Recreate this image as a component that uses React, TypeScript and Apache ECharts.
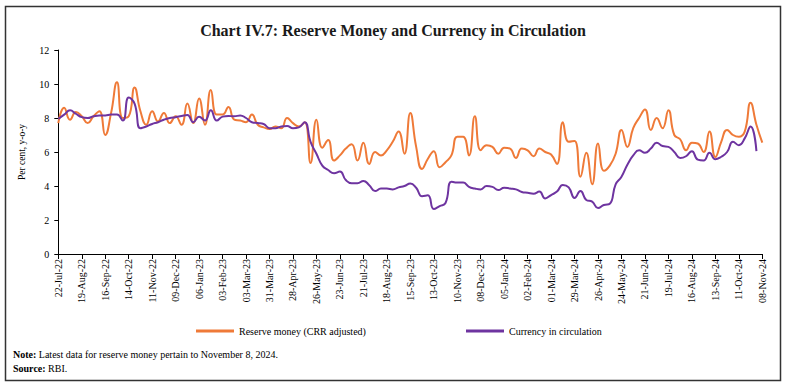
import React, { useEffect, useRef } from "react";
import * as echarts from "echarts";

const TITLE = "Chart IV.7: Reserve Money and Currency in Circulation";
const Y_AXIS_NAME = "Per cent, y-o-y";
const SERIES_NAMES = ["Reserve money (CRR adjusted)", "Currency in circulation"];
const NOTE = "Latest data for reserve money pertain to November 8, 2024.";
const SOURCE = "RBI.";

// Weekly observations, first week ending 22-Jul-2022, last 08-Nov-2024
const START_DATE = [2022, 6, 22];
const WEEK_COUNT = 121;
const Y_TICKS = [0, 2, 4, 6, 8, 10, 12];

const RESERVE_MONEY = [
  7.7, 8.6, 7.9, 8.35, 8.1, 7.7, 8.1, 8.4, 7.0, 8.3,
  10.1, 8.0, 8.1, 9.8, 8.4, 7.6, 8.4, 7.8, 8.3, 7.7,
  8.1, 7.6, 8.85, 7.7, 9.15, 7.6, 9.65, 8.2, 8.2, 8.65,
  7.9, 7.85, 7.75, 8.2, 7.6, 7.45, 7.35, 7.5, 7.4, 8.0,
  7.7, 7.5, 7.75, 5.35, 7.9, 6.25, 6.7, 5.5, 5.8, 6.2,
  6.45, 5.5, 6.55, 5.3, 6.0, 5.8, 6.1, 6.6, 7.2, 5.9,
  8.3, 6.3, 5.0, 5.6, 6.05, 5.1, 5.4, 5.8, 6.9, 6.9,
  5.8, 8.1, 6.1, 6.4, 6.3, 5.9, 6.25, 6.2, 5.65, 6.2,
  6.1, 5.75, 6.2, 6.0, 5.85, 5.3, 7.75, 6.6, 6.65, 4.55,
  5.95, 4.1, 6.5, 4.9, 5.2, 5.9, 7.3, 6.3, 7.4, 8.0,
  8.5, 7.3, 8.0, 7.4, 8.45, 7.0, 6.75, 6.1, 6.55, 6.5,
  6.0, 7.2, 5.7, 6.6, 7.3, 7.0, 6.9, 7.2, 8.9, 7.6,
  6.55,
];

const CURRENCY = [
  7.95, 8.2, 8.45, 8.25, 8.05, 8.0, 8.1, 8.15, 8.15, 8.2,
  8.2, 7.85, 9.2, 8.85, 7.4, 7.5, 7.65, 7.75, 7.9, 8.0,
  8.05, 8.12, 8.18, 7.75, 8.08, 7.85, 8.45, 7.85, 8.08, 8.12,
  8.1, 8.15, 8.0, 7.75, 7.7, 7.65, 7.4, 7.4, 7.5, 7.53,
  7.4, 7.45, 7.75, 6.6, 5.9, 5.2, 4.94, 4.75, 4.85, 4.35,
  4.16, 4.16, 4.3, 4.05, 3.7, 3.85, 3.85, 3.8, 3.92, 4.0,
  4.15, 3.9, 3.4, 3.45, 2.65, 2.82, 3.0, 4.25, 4.2, 4.2,
  3.95, 3.85, 3.8, 4.0, 3.95, 3.76, 3.9, 3.85, 3.8, 3.65,
  3.6, 3.55, 3.67, 3.27, 3.47, 3.67, 4.06, 3.92, 3.3, 3.7,
  3.18, 3.08, 2.7, 2.88, 2.95, 4.1, 4.55, 5.25, 5.8, 6.1,
  5.95, 6.2, 6.55, 6.35, 6.3, 6.0, 5.65, 5.75, 6.05, 5.55,
  5.5, 5.95, 5.57, 5.72, 6.0, 6.6, 6.4, 6.8, 7.5, 6.05,
  null,
];

const MONTHS = ["Jan", "Feb", "Mar", "Apr", "May", "Jun", "Jul", "Aug", "Sep", "Oct", "Nov", "Dec"];

function buildCategories(): string[] {
  const out: string[] = [];
  for (let i = 0; i < WEEK_COUNT; i++) {
    const d = new Date(Date.UTC(START_DATE[0], START_DATE[1], START_DATE[2] + 7 * i));
    const dd = String(d.getUTCDate()).padStart(2, "0");
    const yy = String(d.getUTCFullYear() % 100).padStart(2, "0");
    out.push(`${dd}-${MONTHS[d.getUTCMonth()]}-${yy}`);
  }
  return out;
}

const CATEGORIES = buildCategories();

const FONT = "'Liberation Serif', 'DejaVu Serif', serif";
const ORANGE = "#EF7A38";
const PURPLE = "#6E34A0";

export default function App() {
  const ref = useRef<HTMLDivElement>(null);

  useEffect(() => {
    if (!ref.current) return;
    const chart = echarts.init(ref.current, undefined, { renderer: "svg" });
    chart.setOption({
      animation: false,
      backgroundColor: "#ffffff",
      title: {
        text: TITLE,
        left: "center",
        top: 17,
        textStyle: { fontFamily: FONT, fontSize: 16, fontWeight: "bold", color: "#1a1a1a" },
      },
      grid: { left: 58.3, right: 23.7, top: 50, bottom: 133, containLabel: false },
      legend: [
        {
          data: [SERIES_NAMES[0]],
          left: 191,
          top: 321,
          icon: "rect",
          itemWidth: 38,
          itemHeight: 3,
          itemGap: 5,
          textStyle: { fontFamily: FONT, fontSize: 10, color: "#000" },
        },
        {
          data: [SERIES_NAMES[1]],
          left: 461,
          top: 321,
          icon: "rect",
          itemWidth: 38,
          itemHeight: 3,
          itemGap: 5,
          textStyle: { fontFamily: FONT, fontSize: 10, color: "#000" },
        },
      ],
      xAxis: {
        type: "category",
        data: CATEGORIES,
        boundaryGap: false,
        axisLine: { show: true, lineStyle: { color: "#000", width: 1 } },
        axisTick: { show: true, interval: 3, length: 5, lineStyle: { color: "#000" } },
        axisLabel: {
          interval: 3,
          rotate: 90,
          margin: 5,
          fontFamily: FONT,
          fontSize: 10,
          color: "#000",
        },
        splitLine: { show: false },
      },
      yAxis: {
        type: "value",
        min: Y_TICKS[0],
        max: Y_TICKS[Y_TICKS.length - 1],
        interval: 2,
        name: Y_AXIS_NAME,
        nameLocation: "middle",
        nameRotate: 90,
        nameGap: 31,
        nameTextStyle: { fontFamily: FONT, fontSize: 9.5, color: "#000" },
        axisLine: { show: true, lineStyle: { color: "#000", width: 1 } },
        axisTick: { show: true, length: 4, lineStyle: { color: "#000" } },
        axisLabel: { margin: 9, fontFamily: FONT, fontSize: 10, color: "#000" },
        splitLine: { show: false },
      },
      series: [
        {
          name: SERIES_NAMES[0],
          type: "line",
          data: RESERVE_MONEY,
          smooth: 0.5,
          symbol: "none",
          lineStyle: { color: ORANGE, width: 2 },
          itemStyle: { color: ORANGE },
          z: 2,
        },
        {
          name: SERIES_NAMES[1],
          type: "line",
          data: CURRENCY,
          smooth: 0.5,
          symbol: "none",
          lineStyle: { color: PURPLE, width: 2 },
          itemStyle: { color: PURPLE },
          z: 3,
        },
      ],
      graphic: [
        {
          type: "rect",
          shape: { x: 5.5, y: 6.5, width: 775, height: 374 },
          style: { fill: "none", stroke: "#333", lineWidth: 1.5 },
          silent: true,
        },
        {
          type: "text",
          left: 13,
          top: 349,
          style: {
            text: `{b|Note:}{n| ${NOTE}}`,
            rich: {
              b: { fontFamily: FONT, fontSize: 10, fontWeight: "bold", fill: "#000" },
              n: { fontFamily: FONT, fontSize: 10, fill: "#000" },
            },
          },
        },
        {
          type: "text",
          left: 13,
          top: 363,
          style: {
            text: `{b|Source:}{n| ${SOURCE}}`,
            rich: {
              b: { fontFamily: FONT, fontSize: 10, fontWeight: "bold", fill: "#000" },
              n: { fontFamily: FONT, fontSize: 10, fill: "#000" },
            },
          },
        },
      ],
    });
    return () => chart.dispose();
  }, []);

  return (
    <div style={{ position: "fixed", left: 0, top: 0, width: 786, height: 387, background: "#fff" }}>
      <div ref={ref} style={{ width: 786, height: 387 }} />
    </div>
  );
}
